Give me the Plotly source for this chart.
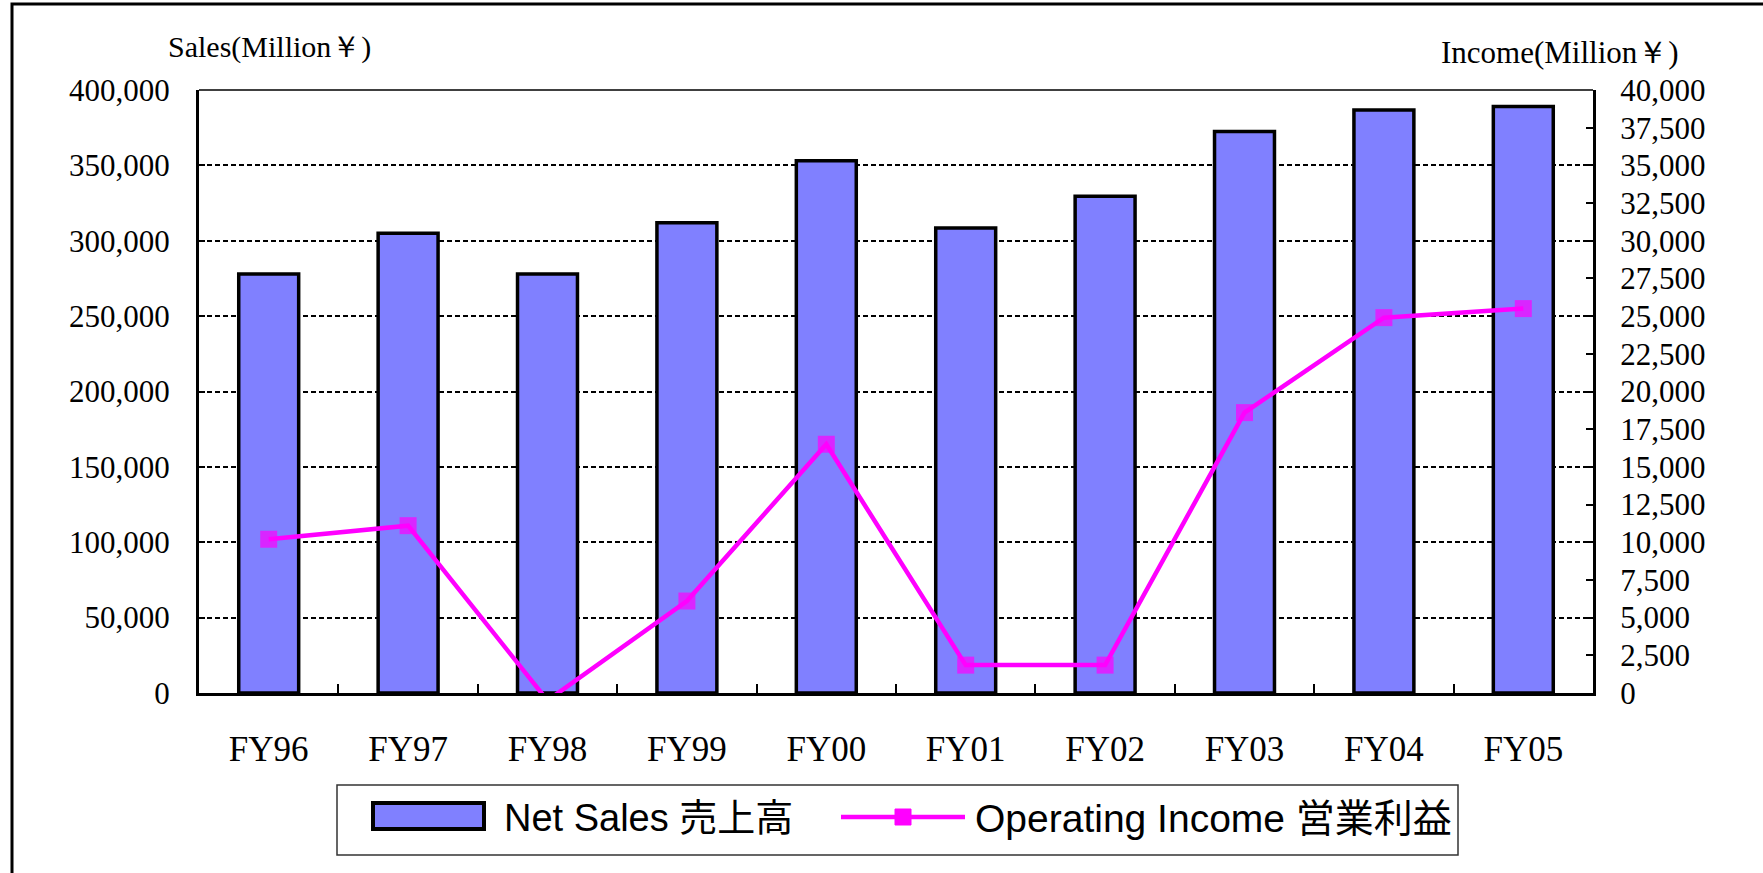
import plotly.graph_objects as go

categories = ["FY96", "FY97", "FY98", "FY99", "FY00", "FY01", "FY02", "FY03", "FY04", "FY05"]
net_sales = [278000, 305000, 278000, 312000, 353000, 308500, 329600, 372400, 386800, 389000]
operating_income = [10200, 11100, -500, 6100, 16500, 1850, 1850, 18600, 24900, 25500]

sales_ticks = list(range(0, 400001, 50000))
income_ticks = list(range(0, 40001, 2500))

W, H = 1763, 873
L, R, T, B = 199, 1593, 90, 693
PW, PH = R - L, B - T


def px(x):
    return (x - L) / PW


def py(y):
    return (B - y) / PH


SERIF = "Liberation Serif"
SANS = "Liberation Sans, Noto Sans CJK JP"

fig = go.Figure()
fig.add_trace(go.Bar(
    x=categories, y=net_sales, name="Net Sales 売上高",
    marker=dict(color="#8080FF", line=dict(color="black", width=3.5)),
    yaxis="y",
))
fig.add_trace(go.Scatter(
    x=categories, y=operating_income, name="Operating Income 営業利益",
    mode="lines+markers", yaxis="y2", cliponaxis=False,
    line=dict(color="#FF00FF", width=4.5),
    marker=dict(symbol="square", color="#FF00FF", line=dict(width=0),
                size=[17 if v >= 0 else 0 for v in operating_income]),
))

shapes = []
# outer frame
shapes.append(dict(type="rect", xref="paper", yref="paper",
                   x0=px(12), x1=px(1790), y0=py(900), y1=py(4),
                   line=dict(color="black", width=3), fillcolor="rgba(0,0,0,0)", layer="below"))
# top border of plot area
shapes.append(dict(type="line", xref="paper", yref="paper", x0=0, x1=1, y0=1, y1=1,
                   line=dict(color="black", width=1.5)))
# legend box
shapes.append(dict(type="rect", xref="paper", yref="paper",
                   x0=px(337), x1=px(1458), y0=py(855), y1=py(785),
                   line=dict(color="#333333", width=1.5), fillcolor="white"))
# legend bar symbol
shapes.append(dict(type="rect", xref="paper", yref="paper",
                   x0=px(373), x1=px(484), y0=py(829), y1=py(803),
                   line=dict(color="black", width=4), fillcolor="#8080FF"))
# legend line symbol
shapes.append(dict(type="line", xref="paper", yref="paper",
                   x0=px(841), x1=px(965), y0=py(817), y1=py(817),
                   line=dict(color="#FF00FF", width=4.5)))
shapes.append(dict(type="rect", xref="paper", yref="paper",
                   x0=px(895), x1=px(911), y0=py(825), y1=py(809),
                   line=dict(color="#FF00FF", width=1), fillcolor="#FF00FF"))

annotations = [
    dict(text="Sales(Million￥)", xref="paper", yref="paper", x=px(166), y=py(47),
         xanchor="left", yanchor="middle", showarrow=False,
         font=dict(family=SERIF, size=30, color="black")),
    dict(text="Income(Million￥)", xref="paper", yref="paper", x=px(1439), y=py(52),
         xanchor="left", yanchor="middle", showarrow=False,
         font=dict(family=SERIF, size=31, color="black")),
    dict(text="Net Sales 売上高", xref="paper", yref="paper", x=px(502), y=py(818),
         xanchor="left", yanchor="middle", showarrow=False,
         font=dict(family=SANS, size=38, color="black")),
    dict(text="Operating Income 営業利益", xref="paper", yref="paper", x=px(973), y=py(818),
         xanchor="left", yanchor="middle", showarrow=False,
         font=dict(family=SANS, size=39, color="black")),
]

fig.update_layout(
    width=W, height=H,
    margin=dict(l=L, r=W - R, t=T, b=H - B, pad=0),
    paper_bgcolor="white", plot_bgcolor="white",
    font=dict(family=SERIF, size=31, color="black"),
    showlegend=False,
    bargap=0.57,
    shapes=shapes,
    annotations=annotations,
    xaxis=dict(
        type="category", range=[-0.5, 9.5],
        showline=True, linecolor="black", linewidth=3,
        ticks="inside", tickson="boundaries", ticklen=9, tickwidth=2, tickcolor="black",
        ticklabelstandoff=23, showgrid=False,
        tickfont=dict(family=SERIF, size=35),
    ),
    yaxis=dict(
        range=[0, 400000], tickvals=sales_ticks, tickformat=",d",
        showline=True, linecolor="black", linewidth=3,
        ticks="inside", ticklen=6, tickwidth=2, tickcolor="black",
        showgrid=True, gridcolor="black", gridwidth=1.5, griddash="5px,3px",
        zeroline=False, ticklabelstandoff=20,
        tickfont=dict(family=SERIF, size=31),
    ),
    yaxis2=dict(
        range=[0, 40000], tickvals=income_ticks, tickformat=",d",
        overlaying="y", side="right",
        showline=True, linecolor="black", linewidth=3,
        ticks="inside", ticklen=7, tickwidth=2, tickcolor="black",
        showgrid=False, zeroline=False, ticklabelstandoff=18,
        tickfont=dict(family=SERIF, size=31),
    ),
)

fig.write_html(
    "out.html",
    config={"displayModeBar": False},
    post_script="document.body.style.margin='0';document.body.style.overflow='hidden';",
)
